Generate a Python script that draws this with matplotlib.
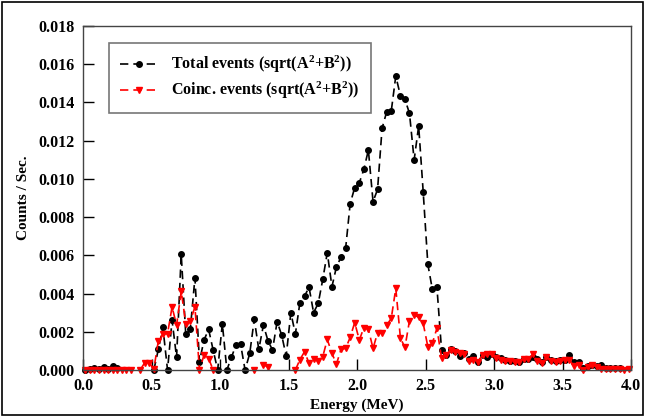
import matplotlib
matplotlib.use("Agg")
import matplotlib.pyplot as plt
import numpy as np
from matplotlib.patches import Rectangle
from matplotlib.ticker import FormatStrFormatter

nan = np.nan

# centros de canal (MeV)
energia = [
    0.017, 0.050, 0.083, 0.117, 0.150, 0.183, 0.217, 0.250, 0.283, 0.317,
    0.350, 0.383, 0.417, 0.450, 0.483, 0.517, 0.550, 0.583, 0.617, 0.650,
    0.683, 0.717, 0.750, 0.783, 0.817, 0.850, 0.883, 0.917, 0.950, 0.983,
    1.017, 1.050, 1.083, 1.117, 1.150, 1.183, 1.217, 1.250, 1.283, 1.317,
    1.350, 1.383, 1.417, 1.450, 1.483, 1.517, 1.550, 1.583, 1.617, 1.650,
    1.683, 1.717, 1.750, 1.783, 1.817, 1.850, 1.883, 1.917, 1.950, 1.983,
    2.017, 2.050, 2.083, 2.117, 2.150, 2.183, 2.217, 2.250, 2.283, 2.317,
    2.350, 2.383, 2.417, 2.450, 2.483, 2.517, 2.550, 2.583, 2.617, 2.650,
    2.683, 2.717, 2.750, 2.783, 2.817, 2.850, 2.883, 2.917, 2.950, 2.983,
    3.017, 3.050, 3.083, 3.117, 3.150, 3.183, 3.217, 3.250, 3.283, 3.317,
    3.350, 3.383, 3.417, 3.450, 3.483, 3.517, 3.550, 3.583, 3.617, 3.650,
    3.683, 3.717, 3.750, 3.783, 3.817, 3.850, 3.883, 3.917, 3.950, 3.983,
]

# eventos totales (canales 0..117)
total = [
    0.0, 0.00003, 0.0001, 0.00003, 0.00017, 0.00003, 0.00023, 0.0001, nan, nan,
    nan, nan, nan, nan, nan, 0.0, 0.00108, 0.00223, 0.0, 0.0026,
    0.00066, 0.00605, 0.00186, 0.00212, 0.00483, 0.00043, 0.00157, 0.00212, 0.00104, 0.0,
    0.00243, 0.0, 0.00066, 0.00131, 0.00136, 0.0, 0.00087, 0.00265, 0.00108, 0.00235,
    0.00153, 0.00105, 0.00253, 0.00183, 0.00073, 0.0030, 0.00188, 0.00352, 0.00387, 0.00433,
    0.0030, 0.00349, 0.00474, 0.00614, 0.00436, 0.0054, 0.0059, 0.00637, 0.0087, 0.00954,
    0.0098, 0.0105, 0.01151, 0.00881, 0.00945, 0.01265, 0.01352, 0.01355, 0.01538, 0.01435,
    0.01416, 0.01343, 0.01099, 0.01277, 0.00933, 0.00553, 0.00422, 0.00436, 0.00105, 0.00078,
    0.00108, 0.00101, 0.00073, 0.00087, 0.00056, 0.00073, 0.00044, 0.00078, 0.00068, 0.00082,
    0.00066, 0.00061, 0.0005, 0.00047, 0.00045, 0.00042, 0.00056, 0.00058, 0.0007, 0.00056,
    0.0004, 0.00066, 0.0005, 0.00045, 0.0005, 0.00052, 0.00077, 0.0004, 0.0004, 0.0001,
    0.0002, 0.00026, 0.0002, 0.00026, 0.0001, 0.0001, 0.0001, 0.00012,
]

# eventos en coincidencia (canales 0..119)
coinc = [
    0.0, 0.0, 0.0, 0.0, 0.0, 0.0, 0.0, 0.0, 0.0, 0.0,
    0.0, nan, 0.0, 0.00038, 0.00038, 0.00005, 0.00153, 0.00188, 0.0019, 0.0033,
    0.00235, 0.00412, 0.00243, 0.00256, 0.0033, 0.0, 0.00078, 0.0006, 0.0, nan,
    nan, nan, nan, nan, nan, nan, nan, 0.0, nan, 0.00026,
    0.00017, nan, nan, nan, nan, nan, 0.0, 0.00054, 0.00096, 0.00035,
    0.00056, 0.00047, 0.0007, 0.0016, 0.00087, 0.00031, 0.00108, 0.00113, 0.00171, 0.00248,
    0.00157, 0.00222, 0.00213, 0.00113, 0.00195, 0.00192, 0.00235, 0.0027, 0.00427, 0.00166,
    0.00119, 0.00258, 0.00288, 0.00276, 0.00244, 0.00122, 0.0014, 0.00218, 0.00065, 0.00078,
    0.00105, 0.00096, 0.0009, 0.00082, 0.00047, 0.00052, 0.00044, 0.00078, 0.00082, 0.00082,
    0.00061, 0.00052, 0.00047, 0.00047, 0.0004, 0.0004, 0.00056, 0.00056, 0.00082, 0.00047,
    0.00035, 0.0007, 0.00047, 0.0004, 0.00047, 0.00052, 0.00052, 0.00021, 0.00026, 0.0,
    0.00017, 0.00026, 0.00017, 0.00005, 0.00005, 0.00005, 0.00005, 0.00005, 0.0, 0.00005,
]

plt.rcParams["font.family"] = ["Liberation Serif", "DejaVu Serif"]
plt.rcParams["font.weight"] = "bold"
plt.rcParams["mathtext.fontset"] = "custom"
plt.rcParams["mathtext.rm"] = "Liberation Serif:bold"
plt.rcParams["mathtext.it"] = "Liberation Serif:bold"
plt.rcParams["mathtext.bf"] = "Liberation Serif:bold"

fig = plt.figure(figsize=(6.46, 4.18), dpi=100)
ax = fig.add_axes([0.1285, 0.1148, 0.8483, 0.823])

# marco exterior de la figura
fig.patches.append(Rectangle((0.003, 0.007), 0.992, 0.988, transform=fig.transFigure,
                             fill=False, edgecolor="black", lw=1.2))

ax.plot(energia[:len(total)], total, color="black", ls=(0, (5, 3)), lw=1.2,
        marker="o", ms=4, label="Total events (sqrt(A$^2$+B$^2$))", clip_on=False)
ax.plot(energia, coinc, color="#ff0000", ls=(0, (5, 3)), lw=1.2,
        marker="v", ms=5, label="Coinc. events (sqrt(A$^2$+B$^2$))", clip_on=False)

ax.set_xlim(0, 4.0)
ax.set_ylim(0, 0.018)
ax.set_xticks([0.0, 0.5, 1.0, 1.5, 2.0, 2.5, 3.0, 3.5, 4.0])
ax.set_yticks([0.000, 0.002, 0.004, 0.006, 0.008, 0.010, 0.012, 0.014, 0.016, 0.018])
ax.xaxis.set_major_formatter(FormatStrFormatter("%.1f"))
ax.yaxis.set_major_formatter(FormatStrFormatter("%.3f"))
ax.tick_params(direction="in", length=8, width=1.0, labelsize=11.5, pad=6)
for s in ax.spines.values():
    s.set_color("#444444")
    s.set_linewidth(1.0)

ax.set_xlabel("Energy (MeV)", fontsize=11, fontweight="bold", labelpad=3)
ax.set_ylabel("Counts / Sec.", fontsize=11, fontweight="bold", labelpad=6)

leg = ax.legend(loc="upper left", bbox_to_anchor=(0.047, 0.951), borderaxespad=0,
                fancybox=False, edgecolor="#555555", fontsize=11.5, handlelength=2.4,
                borderpad=0.7, labelspacing=0.3)
leg.get_frame().set_linewidth(1.2)

fig.savefig("out.png", dpi=100)
